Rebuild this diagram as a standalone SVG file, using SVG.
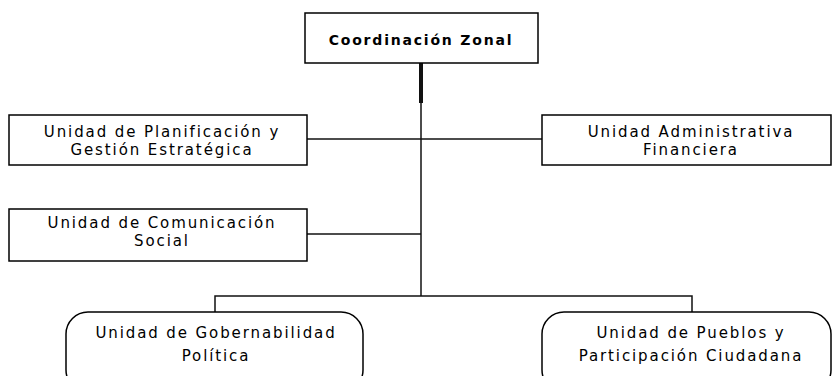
<svg xmlns="http://www.w3.org/2000/svg" width="832" height="376" viewBox="0 0 832 376">
<style>
.box{fill:#fff;stroke:#000;stroke-width:1.5}
.ln{stroke:#111;stroke-width:1.5;fill:none}
.t{font-family:"DejaVu Sans",sans-serif;font-size:15px;letter-spacing:1.9px;fill:#000;text-anchor:middle}
.b{font-weight:bold;font-size:14px;letter-spacing:1.8px}
</style>
<rect width="832" height="376" fill="#fff"/>
<g id="connectors">
<line class="ln" x1="421" y1="63" x2="421" y2="103" style="stroke-width:4"/>
<line class="ln" x1="421" y1="103" x2="421" y2="296"/>
<line class="ln" x1="307" y1="139" x2="542" y2="139"/>
<line class="ln" x1="307" y1="234" x2="421" y2="234"/>
<polyline class="ln" points="215,312 215,296 692,296 692,312"/>
</g>
<g id="coordinacion">
<rect class="box" x="305" y="13" width="233" height="50"/>
<text class="t b" x="421" y="45">Coordinación Zonal</text>
</g>
<g id="planificacion">
<rect class="box" x="9" y="115" width="298" height="50"/>
<text class="t" x="162" y="137">Unidad de Planificación y</text>
<text class="t" x="162" y="155">Gestión Estratégica</text>
</g>
<g id="administrativa">
<rect class="box" x="542" y="115" width="289" height="50"/>
<text class="t" x="691" y="137">Unidad Administrativa</text>
<text class="t" x="691" y="155">Financiera</text>
</g>
<g id="comunicacion">
<rect class="box" x="9" y="209" width="298" height="52"/>
<text class="t" x="162" y="228">Unidad de Comunicación</text>
<text class="t" x="162" y="246">Social</text>
</g>
<g id="gobernabilidad">
<rect class="box" x="66" y="312" width="297" height="80" rx="22" ry="22"/>
<text class="t" x="216" y="338">Unidad de Gobernabilidad</text>
<text class="t" x="216" y="361">Política</text>
</g>
<g id="pueblos">
<rect class="box" x="542" y="312" width="289" height="80" rx="22" ry="22"/>
<text class="t" x="691" y="338">Unidad de Pueblos y</text>
<text class="t" x="691" y="361">Participación Ciudadana</text>
</g>
</svg>
